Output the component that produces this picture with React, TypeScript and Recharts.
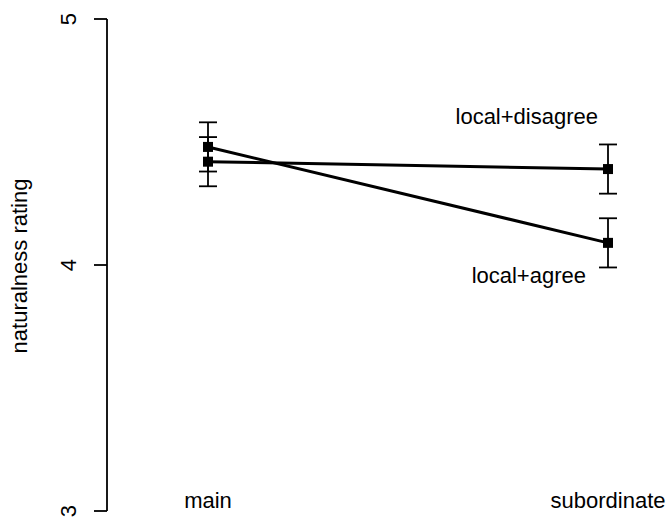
import React from 'react';
import { LineChart, Line, XAxis, YAxis, ErrorBar, Label } from 'recharts';

// clause position (x) and labels
const positions = [1, 2];
const categories = ['main', 'subordinate'];

// mean naturalness ratings per condition
const agree = [4.48, 4.09];
const disagree = [4.42, 4.39];

// standard errors
const agreeErr = [0.1, 0.1];
const disagreeErr = [0.1, 0.1];

const yTicks = [3, 4, 5];

const data = positions.map((p, i) => ({
  x: p,
  agree: agree[i],
  disagree: disagree[i],
  agreeErr: agreeErr[i],
  disagreeErr: disagreeErr[i],
}));

const FONT = '"Liberation Sans", Arial, Helvetica, sans-serif';

const SquareDot = (props: any) => {
  const { cx, cy, index } = props;
  if (cx == null || cy == null) return null;
  return <rect key={`dot-${index}`} x={cx - 5} y={cy - 5} width={10} height={10} fill="#000" />;
};

const makeLineLabel = (text: string, dx: number, dy: number) => (props: any) => {
  const { x, y, index } = props;
  if (index !== positions.length - 1) return null;
  return (
    <text x={x + dx} y={y + dy} textAnchor="end" fontFamily={FONT} fontSize={22} fill="#000">
      {text}
    </text>
  );
};

const XTick = (props: any) => {
  const { x, y, payload } = props;
  const idx = positions.indexOf(payload.value);
  return (
    <text x={x} y={y - 3} textAnchor="middle" fontFamily={FONT} fontSize={22} fill="#000">
      {categories[idx]}
    </text>
  );
};

const YTick = (props: any) => {
  const { x, y, payload } = props;
  const tx = x - 16;
  return (
    <text
      x={tx}
      y={y}
      transform={`rotate(-90, ${tx}, ${y})`}
      textAnchor="middle"
      fontFamily={FONT}
      fontSize={22}
      fill="#000"
    >
      {payload.value}
    </text>
  );
};

const YLabel = (props: any) => {
  const { viewBox } = props;
  const tx = viewBox.x + 27;
  const ty = viewBox.y + viewBox.height / 2 + 1;
  return (
    <text
      x={tx}
      y={ty}
      transform={`rotate(-90, ${tx}, ${ty})`}
      textAnchor="middle"
      fontFamily={FONT}
      fontSize={22}
      fill="#000"
    >
      naturalness rating
    </text>
  );
};

export default function App() {
  return (
    <div style={{ position: 'absolute', left: 0, top: 0, background: '#fff' }}>
      <LineChart width={670} height={519} data={data} margin={{ top: 19, right: 10, bottom: 0, left: 0 }}>
        <XAxis
          type="number"
          dataKey="x"
          domain={[0.7475, 2.13]}
          ticks={positions}
          axisLine={false}
          tickLine={false}
          tickSize={0}
          tickMargin={0}
          height={8}
          tick={<XTick />}
          interval={0}
        />
        <YAxis
          type="number"
          domain={[3, 5]}
          ticks={yTicks}
          width={107}
          axisLine={{ stroke: '#000', strokeWidth: 1.8 }}
          tickLine={{ stroke: '#000', strokeWidth: 1.8 }}
          tickSize={13}
          tick={<YTick />}
          interval={0}
        >
          <Label content={<YLabel />} />
        </YAxis>
        <Line
          dataKey="disagree"
          type="linear"
          stroke="#000"
          strokeWidth={3}
          dot={SquareDot}
          activeDot={false}
          isAnimationActive={false}
          label={makeLineLabel('local+disagree', -10, -45)}
        >
          <ErrorBar dataKey="disagreeErr" width={9} stroke="#000" strokeWidth={1.8} direction="y" />
        </Line>
        <Line
          dataKey="agree"
          type="linear"
          stroke="#000"
          strokeWidth={3}
          dot={SquareDot}
          activeDot={false}
          isAnimationActive={false}
          label={makeLineLabel('local+agree', -22, 40)}
        >
          <ErrorBar dataKey="agreeErr" width={9} stroke="#000" strokeWidth={1.8} direction="y" />
        </Line>
      </LineChart>
    </div>
  );
}
